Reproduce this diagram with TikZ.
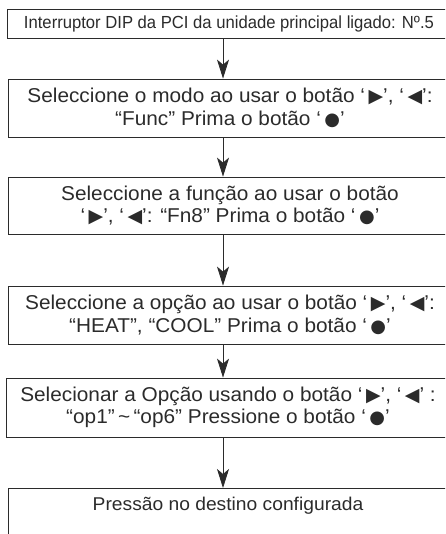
\documentclass[tikz,border=0pt]{standalone}
\usepackage{fontspec}
\usepackage{tikz}
\usetikzlibrary{arrows.meta}
\setmainfont{Liberation Sans}
\newfontfamily\widefont[FakeStretch=1.04]{Liberation Sans}
\newfontfamily\symfont{DejaVu Sans}

\newcommand{\dirR}{\hspace{3.5pt}{\symfont\fontsize{19}{19}\selectfont ▶}}
\newcommand{\dirL}{\hspace{3.5pt}{\symfont\fontsize{19}{19}\selectfont ◀}}
\newcommand{\btnok}{\hspace{3.5pt}{\symfont\fontsize{18}{18}\selectfont ●}}

\definecolor{inkgray}{HTML}{2B2B2B}

\tikzset{
  stepbox/.style={draw=inkgray, line width=0.8pt, minimum width=444pt, align=center,
    text=inkgray, font=\widefont\fontsize{20}{22.5}\selectfont, inner sep=0pt},
  flowarrow/.style={draw=inkgray, line width=0.8pt,
    -{Stealth[length=19pt, width=12pt, inset=5pt]}}
}

\begin{document}
\begin{tikzpicture}[x=1pt, y=-1pt]

\useasboundingbox (0,0) rectangle (445,534);
\clip (0,0) rectangle (445,534);

% Caixas
\node[stepbox, minimum height=29pt, font=\fontsize{17.5}{20}\selectfont] (b1) at (229,23.5)
  {\resizebox{410pt}{\height}{Interruptor DIP da PCI da unidade principal ligado: Nº.5}};
\node[stepbox, minimum height=58pt] (b2) at (230,108)
  {Seleccione o modo ao usar o botão ‘\dirR’, ‘\dirL’:\\
   “Func” Prima o botão ‘\btnok’};
\node[stepbox, minimum height=57pt] (b3) at (230,205.5)
  {Seleccione a função ao usar o botão\\
   ‘\dirR’, ‘\dirL’: “Fn8” Prima o botão ‘\btnok’};
\node[stepbox, minimum height=58pt] (b4) at (230,315)
  {Seleccione a opção ao usar o botão ‘\dirR’, ‘\dirL’:\\
   “HEAT”, “COOL” Prima o botão ‘\btnok’};
\node[stepbox, minimum height=59pt] (b5) at (228,407.5)
  {Selecionar a Opção usando o botão ‘\dirR’, ‘\dirL’ :\\
   “op1”\,\textasciitilde\,“op6” Pressione o botão ‘\btnok’};

% Última caixa (cortada em baixo)
\node[text=inkgray, font=\widefont\fontsize{18.5}{20}\selectfont] (b6) at (228,506)
  {Pressão no destino configurada};
\draw[draw=inkgray, line width=0.8pt] (8,540) |- (452,488);
\coordinate (b6top) at (223,488);

% Setas
\coordinate (spine) at (223,0);
\draw[flowarrow] (b1.south -| spine) -- (b2.north -| spine);
\draw[flowarrow] (b2.south -| spine) -- (b3.north -| spine);
\draw[flowarrow] (b3.south -| spine) -- (b4.north -| spine);
\draw[flowarrow] (b4.south -| spine) -- (b5.north -| spine);
\draw[flowarrow] (b5.south -| spine) -- (b6top);

\end{tikzpicture}
\end{document}
